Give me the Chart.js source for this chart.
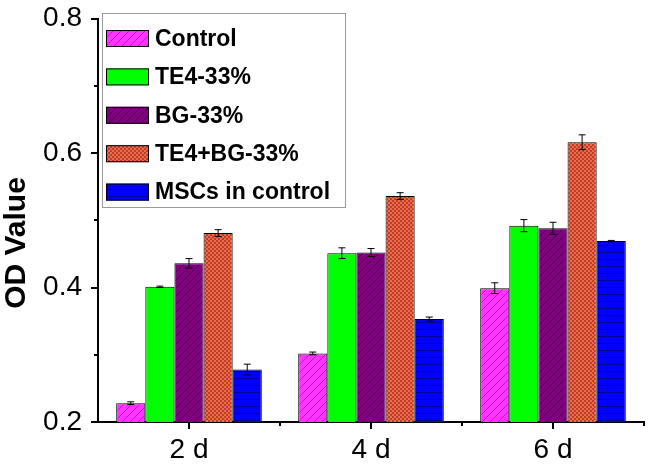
<!DOCTYPE html>
<html>
<head>
<meta charset="utf-8">
<script src="https://cdn.jsdelivr.net/npm/chart.js@4/dist/chart.umd.min.js"></script>
<style>
  html, body { margin: 0; padding: 0; background: #fff; }
  #wrap { width: 649px; height: 464px; }
</style>
</head>
<body>
<div id="wrap"><canvas id="chart" width="649" height="464"></canvas></div>
<script>
/* DATA */
const days = ["2 d", "4 d", "6 d"];
const groups = ["Control", "TE4-33%", "BG-33%", "TE4+BG-33%", "MSCs in control"];
const control   = [0.228, 0.302, 0.399];
const te4       = [0.401, 0.451, 0.492];
const bg        = [0.436, 0.452, 0.488];
const te4bg     = [0.481, 0.536, 0.616];
const mscs      = [0.278, 0.353, 0.469];
const controlErr = [0.002, 0.002, 0.008];
const te4Err     = [0.001, 0.008, 0.009];
const bgErr      = [0.007, 0.006, 0.009];
const te4bgErr   = [0.005, 0.005, 0.011];
const mscsErr    = [0.008, 0.003, 0.001];
const yTicks = [0.2, 0.3, 0.4, 0.5, 0.6, 0.7, 0.8];
const yTitle = "OD Value";

/* PATTERNS */
function makePattern(base, size, drawFn) {
  const c = document.createElement("canvas");
  c.width = size; c.height = size;
  const x = c.getContext("2d");
  x.fillStyle = base;
  x.fillRect(0, 0, size, size);
  drawFn(x, size);
  return x.createPattern(c, "repeat");
}
function diag(color) {
  return (x, s) => {
    x.strokeStyle = color;
    x.lineWidth = 1;
    x.beginPath();
    x.moveTo(-1, s + 1); x.lineTo(s + 1, -1);
    x.moveTo(-1, 1); x.lineTo(1, -1);
    x.moveTo(s - 1, s + 1); x.lineTo(s + 1, s - 1);
    x.stroke();
  };
}
const controlFill = makePattern("#ff33ff", 8, diag("#b81fb8"));
const te4Fill = "#00ff00";
const bgFill = makePattern("#800080", 8, diag("#4a004a"));
const te4bgFill = makePattern("#f26a4a", 4, (x) => {
  x.fillStyle = "#b8402a";
  x.fillRect(0, 0, 2, 2);
  x.fillRect(2, 2, 2, 2);
});
const mscsFill = makePattern("#0000ff", 7, (x, s) => {
  x.fillStyle = "#00009a";
  x.fillRect(0, 0, s, 1);
});

const values = [control, te4, bg, te4bg, mscs];
const errors = [controlErr, te4Err, bgErr, te4bgErr, mscsErr];
const fills = [controlFill, te4Fill, bgFill, te4bgFill, mscsFill];
const FONT = "'Liberation Sans', Arial, sans-serif";

/* PLUGIN: error bars, ticks, title, legend */
const extras = {
  id: "extras",
  afterDatasetsDraw(chart) {
    const ctx = chart.ctx;
    const y = chart.scales.y;
    ctx.save();
    ctx.strokeStyle = "#000";
    ctx.lineWidth = 1;
    chart.data.datasets.forEach((ds, i) => {
      const meta = chart.getDatasetMeta(i);
      meta.data.forEach((bar, j) => {
        const v = ds.data[j], e = errors[i][j];
        const top = y.getPixelForValue(v + e);
        const bot = y.getPixelForValue(v - e);
        ctx.beginPath();
        ctx.moveTo(bar.x, top); ctx.lineTo(bar.x, bot);
        ctx.moveTo(bar.x - 3.5, top); ctx.lineTo(bar.x + 3.5, top);
        ctx.moveTo(bar.x - 3.5, bot); ctx.lineTo(bar.x + 3.5, bot);
        ctx.stroke();
      });
    });
    ctx.restore();
  },
  afterDraw(chart) {
    const ctx = chart.ctx;
    const area = chart.chartArea;
    const x = chart.scales.x, y = chart.scales.y;
    ctx.save();
    ctx.strokeStyle = "#000";
    ctx.lineWidth = 2;
    // y ticks
    yTicks.forEach((v, i) => {
      const py = Math.round(y.getPixelForValue(v));
      const len = i % 2 === 0 ? 7 : 4;
      ctx.beginPath();
      ctx.moveTo(area.left, py); ctx.lineTo(area.left - len, py);
      ctx.stroke();
    });
    // x ticks
    const step = x.getPixelForTick(1) - x.getPixelForTick(0);
    days.forEach((d, i) => {
      const px = x.getPixelForTick(i);
      ctx.beginPath();
      ctx.moveTo(px, area.bottom); ctx.lineTo(px, area.bottom + 7);
      ctx.moveTo(px + step / 2, area.bottom); ctx.lineTo(px + step / 2, area.bottom + 4);
      ctx.stroke();
    });
    // y title
    ctx.save();
    ctx.translate(17, 243);
    ctx.rotate(-Math.PI / 2);
    ctx.font = "bold 30px " + FONT;
    ctx.fillStyle = "#000";
    ctx.textAlign = "center";
    ctx.textBaseline = "middle";
    ctx.fillText(yTitle, 0, 0);
    ctx.restore();
    // legend
    const lx = 102, ly = 13, lw = 243, lh = 194;
    ctx.fillStyle = "#fff";
    ctx.fillRect(lx, ly, lw, lh);
    ctx.lineWidth = 1;
    ctx.strokeStyle = "#9a9a9a";
    ctx.strokeRect(lx + 0.5, ly + 0.5, lw, lh);
    ctx.font = "bold 23px " + FONT;
    ctx.textBaseline = "middle";
    chart.data.datasets.forEach((ds, i) => {
      const cy = 38.5 + i * 38.4;
      ctx.fillStyle = ds.backgroundColor;
      ctx.fillRect(106, cy - 8.5, 43, 17);
      ctx.strokeStyle = "#000";
      ctx.strokeRect(106.5, cy - 8, 42, 16);
      ctx.fillStyle = "#000";
      ctx.fillText(ds.label, 155, cy + 1);
    });
    ctx.restore();
  }
};

new Chart(document.getElementById("chart"), {
  type: "bar",
  data: {
    labels: days,
    datasets: groups.map((g, i) => ({
      label: g,
      data: values[i],
      backgroundColor: fills[i],
      borderColor: "#000",
      borderWidth: 1,
      borderSkipped: "bottom",
      categoryPercentage: 0.8,
      barPercentage: 1.0
    }))
  },
  options: {
    responsive: false,
    animation: false,
    layout: { padding: { top: 0, right: 5, left: 0, bottom: 0 } },
    plugins: {
      legend: { display: false },
      tooltip: { enabled: false }
    },
    scales: {
      x: {
        grid: { display: false },
        border: { color: "#000", width: 2 },
        ticks: {
          color: "#000",
          padding: 3,
          font: { family: FONT, size: 28 }
        },
        afterFit: (s) => { s.height = 42; }
      },
      y: {
        min: 0.2,
        max: 0.8,
        grid: { display: false },
        border: { color: "#000", width: 2 },
        ticks: {
          stepSize: 0.1,
          color: "#000",
          padding: 8,
          font: { family: FONT, size: 28, lineHeight: 0.75 },
          callback: (v) => {
            const r = Math.round(v * 10);
            return r % 2 === 0 ? (r / 10).toFixed(1) : "";
          }
        },
        afterFit: (s) => { s.width = 98; }
      }
    }
  },
  plugins: [extras]
});
</script>
</body>
</html>
